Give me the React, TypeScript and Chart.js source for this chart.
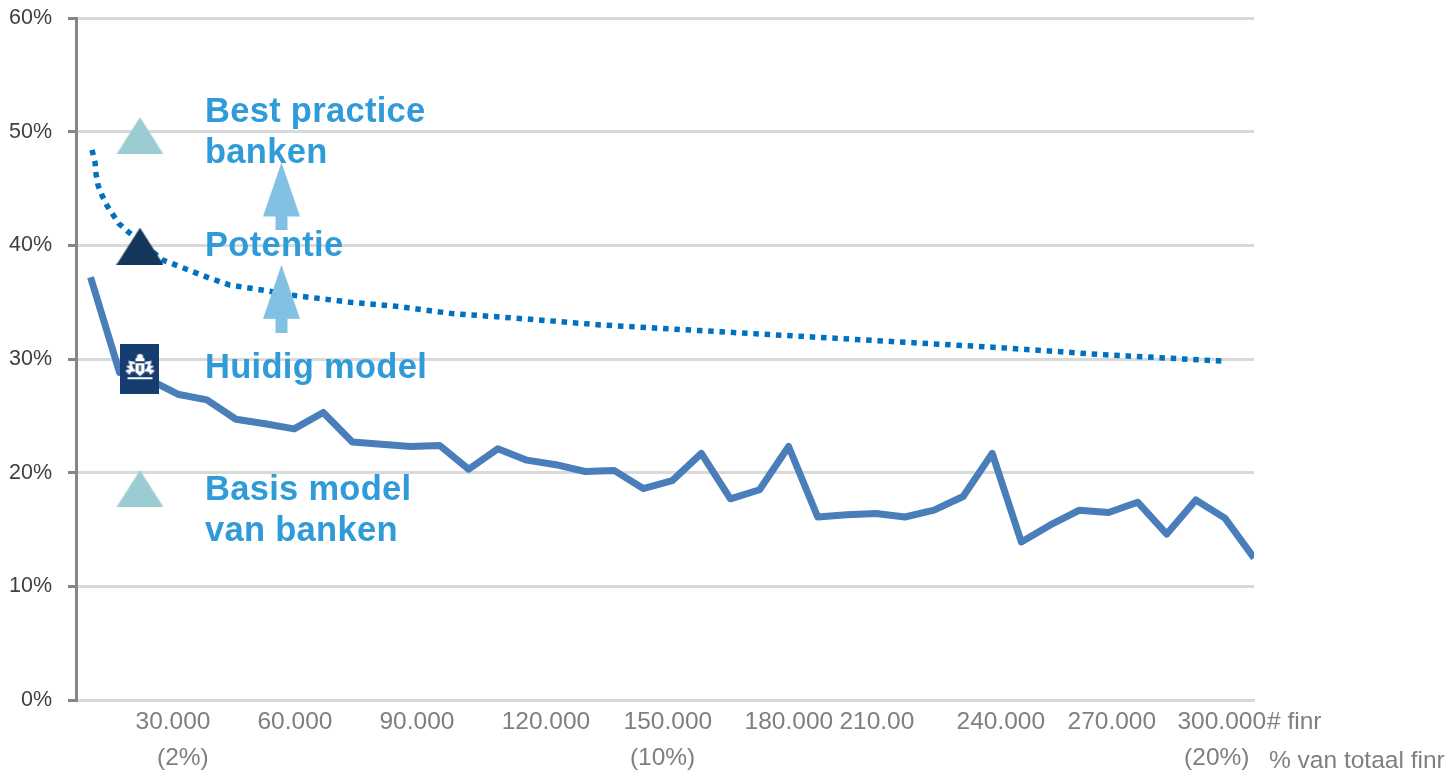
import React, { useEffect, useRef } from "react";
import { Chart, registerables } from "chart.js";

Chart.register(...registerables);

const FONT = '"Liberation Sans", Arial, sans-serif';

const pointCount = [7500, 15000, 22500, 30000, 37500, 45000, 52500, 60000, 67500, 75000, 82500, 90000, 97500, 105000, 112500, 120000, 127500, 135000, 142500, 150000, 157500, 165000, 172500, 180000, 187500, 195000, 202500, 210000, 217500, 225000, 232500, 240000, 247500, 255000, 262500, 270000, 277500, 285000, 292500, 300000, 307500];
const currentModel = [37.2, 28.8, 28.2, 26.9, 26.4, 24.7, 24.3, 23.85, 25.3, 22.7, 22.5, 22.3, 22.4, 20.3, 22.1, 21.1, 20.7, 20.1, 20.2, 18.6, 19.3, 21.7, 17.7, 18.5, 22.3, 16.1, 16.3, 16.4, 16.1, 16.7, 17.9, 21.7, 13.9, 15.4, 16.7, 16.5, 17.4, 14.6, 17.6, 16.0, 12.5];

const potentialX = [7875, 8650, 8900, 9420, 10450, 11740, 13290, 14835, 17155, 26180, 37520, 43450, 51185, 59690, 74390, 87280, 100680, 120790, 138840, 164620, 190400, 216170, 241950, 267730, 300220];
const potentialY = [48.4, 47.3, 46.3, 45.3, 44.4, 43.5, 42.7, 41.9, 41.2, 38.7, 37.2, 36.5, 36.1, 35.6, 35.0, 34.6, 34.0, 33.5, 33.0, 32.5, 32.0, 31.5, 31.0, 30.4, 29.8];

const xTickAnchors = [28757, 60208, 91660, 124920, 156370, 187560, 210250, 242215, 270830, 299190];
const xTickLabels = ["30.000", "60.000", "90.000", "120.000", "150.000", "180.000", "210.00", "240.000", "270.000", "300.000"];
const shareLabels = ["(2%)", "(10%)", "(20%)"];
const shareAnchors = [31300, 155000, 297900];

const calloutLabels = ["Best practice", "banken", "Potentie", "Huidig model", "Basis model", "van banken"];
const calloutY = [50.84, 47.2, 39.1, 28.3, 17.6, 14.0];
const calloutX = 37000;

const markerX = 20250;
const lightTriangleY = [49.65, 18.6];
const darkTriangleY = [39.93];
const logoY = [29.1];
const arrowX = 56730;
const arrowY = [44.3, 35.3];

function triangle(color: string) {
  const c = document.createElement("canvas");
  c.width = 47;
  c.height = 37;
  const g = c.getContext("2d")!;
  g.fillStyle = color;
  g.beginPath();
  g.moveTo(23.5, 0);
  g.lineTo(47, 37);
  g.lineTo(0, 37);
  g.closePath();
  g.fill();
  return c;
}

function arrow(color: string) {
  const c = document.createElement("canvas");
  c.width = 37;
  c.height = 68;
  const g = c.getContext("2d")!;
  g.fillStyle = color;
  g.beginPath();
  g.moveTo(18.5, 0);
  g.lineTo(37, 54);
  g.lineTo(24.5, 54);
  g.lineTo(24.5, 68);
  g.lineTo(12.5, 68);
  g.lineTo(12.5, 54);
  g.lineTo(0, 54);
  g.closePath();
  g.fill();
  return c;
}

function crest() {
  const c = document.createElement("canvas");
  c.width = 39;
  c.height = 50;
  const g = c.getContext("2d")!;
  g.fillStyle = "#163d70";
  g.fillRect(0, 0, 39, 50);
  g.fillStyle = "#ffffff";
  g.strokeStyle = "#ffffff";
  // crown
  g.fillRect(15, 14, 9, 3);
  g.beginPath();
  g.arc(19.5, 13, 3.2, 0, Math.PI * 2);
  g.fill();
  // shield
  g.fillRect(15, 19, 9, 9);
  g.beginPath();
  g.moveTo(15, 28);
  g.lineTo(19.5, 32);
  g.lineTo(24, 28);
  g.fill();
  // lions
  g.lineWidth = 2.4;
  for (const s of [-1, 1]) {
    g.beginPath();
    g.moveTo(19.5 + s * 5, 19);
    g.lineTo(19.5 + s * 10, 18);
    g.lineTo(19.5 + s * 8, 24);
    g.lineTo(19.5 + s * 13, 22);
    g.moveTo(19.5 + s * 9, 22);
    g.lineTo(19.5 + s * 11, 30);
    g.moveTo(19.5 + s * 5, 26);
    g.lineTo(19.5 + s * 14, 27);
    g.stroke();
  }
  // banner
  g.fillRect(7, 33, 25, 2);
  g.fillStyle = "#163d70";
  g.fillRect(18.5, 21, 2, 6);
  return c;
}

const textPlugin = {
  id: "chartText",
  afterDatasetsDraw(chart: any) {
    const { ctx, scales } = chart;
    const x = scales.x;
    const y = scales.y;
    ctx.save();
    ctx.textBaseline = "alphabetic";
    ctx.textAlign = "left";
    ctx.font = `bold 34.5px ${FONT}`;
    ctx.letterSpacing = "0.3px";
    ctx.fillStyle = "#2f9bd8";
    calloutLabels.forEach((t, i) => {
      ctx.fillText(t, x.getPixelForValue(calloutX), y.getPixelForValue(calloutY[i]));
    });
    ctx.letterSpacing = "0px";
    ctx.font = `24.5px ${FONT}`;
    ctx.fillStyle = "#7f7f7f";
    ctx.textAlign = "center";
    const rowTwo = y.bottom + 65;
    shareLabels.forEach((t, i) => {
      ctx.fillText(t, x.getPixelForValue(shareAnchors[i]), rowTwo);
    });
    ctx.textAlign = "left";
    ctx.fillText("# finr", x.right + 13, y.bottom + 29);
    ctx.fillText("% van totaal finr", x.right + 15, y.bottom + 68);
    ctx.restore();
  },
};

export default function App() {
  const ref = useRef<HTMLCanvasElement>(null);
  useEffect(() => {
    const lightTri = triangle("#9bccd2");
    const darkTri = triangle("#13365a");
    const upArrow = arrow("#83c1e4");
    const logo = crest();
    const chart = new Chart(ref.current!, {
      type: "scatter",
      data: {
        datasets: [
          {
            label: "Huidig model marker",
            data: logoY.map((y) => ({ x: markerX, y })),
            pointStyle: logo as any,
            pointRadius: 20,
            order: 1,
          },
          {
            label: "Potentie",
            data: arrowY.map((y) => ({ x: arrowX, y })),
            pointStyle: upArrow as any,
            pointRadius: 20,
            order: 1,
          },
          {
            label: "Banken",
            data: lightTriangleY.map((y) => ({ x: markerX, y })),
            pointStyle: lightTri as any,
            pointRadius: 20,
            order: 1,
          },
          {
            label: "Potentie marker",
            data: darkTriangleY.map((y) => ({ x: markerX, y })),
            pointStyle: darkTri as any,
            pointRadius: 20,
            order: 1,
          },
          {
            label: "Potentiecurve",
            data: potentialX.map((x, i) => ({ x, y: potentialY[i] })),
            showLine: true,
            borderColor: "#0070c0",
            borderWidth: 5.5,
            borderDash: [5.5, 5.8],
            pointRadius: 0,
            tension: 0,
            order: 2,
          },
          {
            label: "Huidig model",
            data: pointCount.map((x, i) => ({ x, y: currentModel[i] })),
            showLine: true,
            borderColor: "#4a7ebb",
            borderWidth: 7,
            pointRadius: 0,
            tension: 0,
            borderJoinStyle: "round",
            order: 2,
          },
        ],
      },
      options: {
        responsive: false,
        animation: false,
        layout: { autoPadding: false, padding: { top: 18, right: 200, left: 0, bottom: 0 } },
        plugins: { legend: { display: false }, tooltip: { enabled: false } },
        scales: {
          x: {
            type: "linear",
            min: 3750,
            max: 307500,
            afterBuildTicks: (axis: any) => {
              axis.ticks = xTickAnchors.map((value) => ({ value }));
            },
            afterFit: (axis: any) => {
              axis.height = 71;
              axis.paddingLeft = 0;
              axis.paddingRight = 0;
            },
            grid: { display: false, drawTicks: false },
            border: { display: true, color: "#d9d9d9", width: 3 },
            ticks: {
              autoSkip: false,
              maxRotation: 0,
              minRotation: 0,
              padding: 8,
              color: "#7f7f7f",
              font: { family: FONT, size: 24.5 },
              callback: (_v: any, i: number) => xTickLabels[i],
            },
          },
          y: {
            min: 0,
            max: 60,
            afterFit: (axis: any) => {
              axis.width = 76;
              axis.paddingTop = 0;
              axis.paddingBottom = 0;
            },
            grid: {
              color: "#d9d9d9",
              lineWidth: 3,
              tickColor: "#868686",
              tickWidth: 3,
              tickLength: 8,
            },
            border: { color: "#868686", width: 3 },
            ticks: {
              stepSize: 10,
              padding: 16,
              color: "#404040",
              font: { family: FONT, size: 21.5 },
              callback: (v: any) => `${v}%`,
            },
          },
        },
      },
      plugins: [textPlugin],
    } as any);
    return () => chart.destroy();
  }, []);
  return (
    <canvas
      ref={ref}
      width={1454}
      height={771}
      style={{ position: "absolute", left: 0, top: 0, display: "block", width: 1454, height: 771 }}
    />
  );
}
